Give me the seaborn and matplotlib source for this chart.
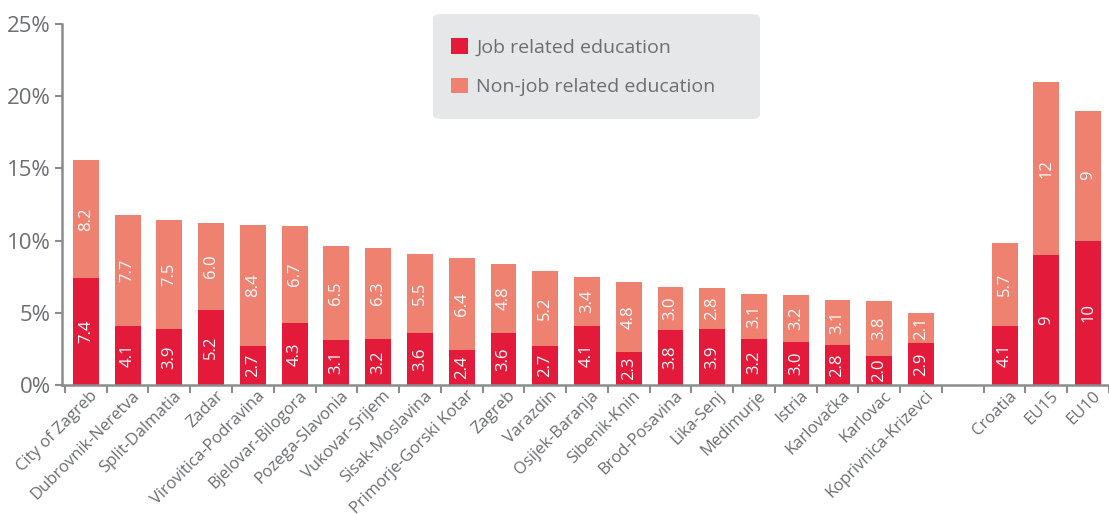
import matplotlib
matplotlib.use("Agg")
import matplotlib.pyplot as plt
import matplotlib.transforms as mtrans
import seaborn as sns
import pandas as pd
from matplotlib.patches import FancyBboxPatch, Patch

regions = ["City of Zagreb", "Dubrovnik-Neretva", "Split-Dalmatia", "Zadar",
           "Virovitica-Podravina", "Bjelovar-Bilogora", "Pozega-Slavonia",
           "Vukovar-Srijem", "Sisak-Moslavina", "Primorje-Gorski Kotar", "Zagreb",
           "Varazdin", "Osijek-Baranja", "Sibenik-Knin", "Brod-Posavina",
           "Lika-Senj", "Medimurje", "Istria", "Karlovačka", "Karlovac",
           "Koprivnica-Krizevci", "Croatia", "EU15", "EU10"]
job = [7.4, 4.1, 3.9, 5.2, 2.7, 4.3, 3.1, 3.2, 3.6, 2.4, 3.6, 2.7, 4.1, 2.3,
       3.8, 3.9, 3.2, 3.0, 2.8, 2.0, 2.9, 4.1, 9, 10]
nonjob = [8.2, 7.7, 7.5, 6.0, 8.4, 6.7, 6.5, 6.3, 5.5, 6.4, 4.8, 5.2, 3.4, 4.8,
          3.0, 2.8, 3.1, 3.2, 3.1, 3.8, 2.1, 5.7, 12, 9]
job_labels = ["7.4", "4.1", "3.9", "5.2", "2.7", "4.3", "3.1", "3.2", "3.6", "2.4",
              "3.6", "2.7", "4.1", "2.3", "3.8", "3.9", "3.2", "3.0", "2.8", "2.0",
              "2.9", "4.1", "9", "10"]
nonjob_labels = ["8.2", "7.7", "7.5", "6.0", "8.4", "6.7", "6.5", "6.3", "5.5", "6.4",
                 "4.8", "5.2", "3.4", "4.8", "3.0", "2.8", "3.1", "3.2", "3.1", "3.8",
                 "2.1", "5.7", "12", "9"]
yticks = [0, 5, 10, 15, 20, 25]
series_names = ["Job related education", "Non-job related education"]

RED = "#e31a3a"
SALMON = "#ef8171"
GREY_TXT = "#6d6e71"
AXIS = "#8c8c90"

sns.set_theme(style="white")
plt.rcParams["font.family"] = ["Open Sans", "DejaVu Sans"]

W, H = 1109, 514
fig = plt.figure(figsize=(W / 100, H / 100), dpi=100)
ax = fig.add_axes([62 / W, 1 - 385 / H, 1 - 62 / W, (385 - 24) / H])

order = regions[:21] + [" "] + regions[21:]
df = pd.DataFrame({"region": regions,
                   "total": [a + b for a, b in zip(job, nonjob)],
                   "job": job})

sns.barplot(data=df, x="region", y="total", order=order, color=SALMON,
            width=0.62, saturation=1, linewidth=0, edgecolor="none", ax=ax)
sns.barplot(data=df, x="region", y="job", order=order, color=RED,
            width=0.62, saturation=1, linewidth=0, edgecolor="none", ax=ax)

pos = {name: order.index(name) for name in regions}
for name, j, n, jl, nl in zip(regions, job, nonjob, job_labels, nonjob_labels):
    x = pos[name]
    ax.text(x, j / 2, jl, rotation=90, ha="center", va="center",
            color="white", fontsize=12)
    ax.text(x, j + n / 2, nl, rotation=90, ha="center", va="center",
            color="white", fontsize=12)

ax.set_xlim(-0.571, 24.36)
ax.set_ylim(0, 25)
ax.set_yticks(yticks)
ax.set_yticklabels([f"{v}%" for v in yticks], fontsize=16, color=GREY_TXT)
ax.set_xlabel("")
ax.set_ylabel("")

ax.set_xticks(range(len(order)))
ax.set_xticklabels(order, rotation=45, ha="right", rotation_mode="anchor",
                   fontsize=12, color=GREY_TXT)
ax.tick_params(axis="x", which="major", length=0, pad=2)
shift = mtrans.ScaledTranslation(4 / 100, 0, fig.dpi_scale_trans)
for lab in ax.get_xticklabels():
    lab.set_transform(lab.get_transform() + shift)
ax.set_xticks([i - 0.5 for i in range(len(order) + 1)], minor=True)
ax.tick_params(axis="x", which="minor", length=6, width=1.5, color=AXIS,
               direction="out", bottom=True)
ax.tick_params(axis="y", which="major", length=5, width=1.5, color=AXIS,
               direction="out", left=True, pad=3)

for s in ["top", "right"]:
    ax.spines[s].set_visible(False)
for s in ["left", "bottom"]:
    ax.spines[s].set_color(AXIS)
    ax.spines[s].set_linewidth(1.8)

# legend box
box = FancyBboxPatch((433 / W, 1 - 119 / H), (760 - 433) / W, 105 / H,
                     boxstyle="round,pad=0,rounding_size=0.008",
                     transform=fig.transFigure, facecolor="#e6e7e8",
                     edgecolor="none", zorder=0)
fig.patches.append(box)
handles = [Patch(facecolor=RED, edgecolor="none", label=series_names[0]),
           Patch(facecolor=SALMON, edgecolor="none", label=series_names[1])]
leg = fig.legend(handles=handles, loc="upper left",
                 bbox_to_anchor=(451 / W, 1 - 38 / H), frameon=False,
                 fontsize=14, handlelength=0.85, handleheight=0.85,
                 handletextpad=0.45, labelspacing=1.1, borderpad=0,
                 borderaxespad=0)
for t in leg.get_texts():
    t.set_color(GREY_TXT)

fig.savefig("out.png", dpi=100)
